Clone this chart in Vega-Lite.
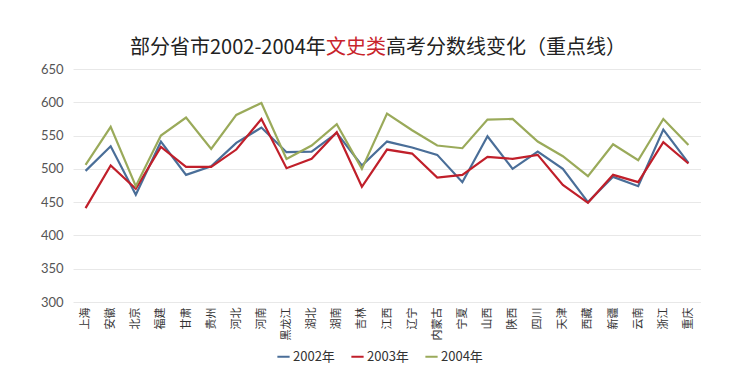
{
  "$schema": "https://vega.github.io/schema/vega-lite/v6.json",
  "background": "white",
  "padding": {"left": 40, "top": 38, "right": 0, "bottom": 0},
  "config": {
    "view": {"stroke": null},
    "font": "Noto Sans CJK SC",
    "title": {"font": "Noto Sans CJK SC", "fontSize": 20, "fontWeight": "normal", "color": "#222222", "anchor": "start", "offset": 0}
  },
  "spacing": 0,
  "center": true,
  "vconcat": [
    {
      "spacing": 0,
      "hconcat": [
        {"width": 1, "height": 1, "data": {"values": []}, "mark": {"type": "point", "opacity": 0}, "encoding": {}, "title": {"text": "部分省市2002-2004年"}},
        {"width": 1, "height": 1, "data": {"values": []}, "mark": {"type": "point", "opacity": 0}, "encoding": {}, "title": {"text": "文史类", "color": "#C8242B"}},
        {"width": 1, "height": 1, "data": {"values": []}, "mark": {"type": "point", "opacity": 0}, "encoding": {}, "title": {"text": "高考分数线变化（重点线）"}},
        {"width": 18, "height": 1, "data": {"values": []}, "mark": {"type": "point", "opacity": 0}, "encoding": {}}
      ]
    },
    {
      "width": 628,
      "height": 233,
      "data": {"values": [
        {"p": "上海", "y": "2002年", "v": 497}, {"p": "上海", "y": "2003年", "v": 441}, {"p": "上海", "y": "2004年", "v": 506},
        {"p": "安徽", "y": "2002年", "v": 534}, {"p": "安徽", "y": "2003年", "v": 505}, {"p": "安徽", "y": "2004年", "v": 563},
        {"p": "北京", "y": "2002年", "v": 461}, {"p": "北京", "y": "2003年", "v": 470}, {"p": "北京", "y": "2004年", "v": 474},
        {"p": "福建", "y": "2002年", "v": 541}, {"p": "福建", "y": "2003年", "v": 533}, {"p": "福建", "y": "2004年", "v": 550},
        {"p": "甘肃", "y": "2002年", "v": 491}, {"p": "甘肃", "y": "2003年", "v": 503}, {"p": "甘肃", "y": "2004年", "v": 577},
        {"p": "贵州", "y": "2002年", "v": 504}, {"p": "贵州", "y": "2003年", "v": 503}, {"p": "贵州", "y": "2004年", "v": 530},
        {"p": "河北", "y": "2002年", "v": 539}, {"p": "河北", "y": "2003年", "v": 529}, {"p": "河北", "y": "2004年", "v": 581},
        {"p": "河南", "y": "2002年", "v": 562}, {"p": "河南", "y": "2003年", "v": 575}, {"p": "河南", "y": "2004年", "v": 599},
        {"p": "黑龙江", "y": "2002年", "v": 525}, {"p": "黑龙江", "y": "2003年", "v": 501}, {"p": "黑龙江", "y": "2004年", "v": 515},
        {"p": "湖北", "y": "2002年", "v": 526}, {"p": "湖北", "y": "2003年", "v": 515}, {"p": "湖北", "y": "2004年", "v": 535},
        {"p": "湖南", "y": "2002年", "v": 554}, {"p": "湖南", "y": "2003年", "v": 555}, {"p": "湖南", "y": "2004年", "v": 567},
        {"p": "吉林", "y": "2002年", "v": 505}, {"p": "吉林", "y": "2003年", "v": 473}, {"p": "吉林", "y": "2004年", "v": 500},
        {"p": "江西", "y": "2002年", "v": 541}, {"p": "江西", "y": "2003年", "v": 529}, {"p": "江西", "y": "2004年", "v": 583},
        {"p": "辽宁", "y": "2002年", "v": 532}, {"p": "辽宁", "y": "2003年", "v": 523}, {"p": "辽宁", "y": "2004年", "v": 558},
        {"p": "内蒙古", "y": "2002年", "v": 521}, {"p": "内蒙古", "y": "2003年", "v": 487}, {"p": "内蒙古", "y": "2004年", "v": 535},
        {"p": "宁夏", "y": "2002年", "v": 480}, {"p": "宁夏", "y": "2003年", "v": 491}, {"p": "宁夏", "y": "2004年", "v": 531},
        {"p": "山西", "y": "2002年", "v": 549}, {"p": "山西", "y": "2003年", "v": 518}, {"p": "山西", "y": "2004年", "v": 574},
        {"p": "陕西", "y": "2002年", "v": 500}, {"p": "陕西", "y": "2003年", "v": 515}, {"p": "陕西", "y": "2004年", "v": 575},
        {"p": "四川", "y": "2002年", "v": 526}, {"p": "四川", "y": "2003年", "v": 521}, {"p": "四川", "y": "2004年", "v": 541},
        {"p": "天津", "y": "2002年", "v": 500}, {"p": "天津", "y": "2003年", "v": 476}, {"p": "天津", "y": "2004年", "v": 519},
        {"p": "西藏", "y": "2002年", "v": 450}, {"p": "西藏", "y": "2003年", "v": 449}, {"p": "西藏", "y": "2004年", "v": 489},
        {"p": "新疆", "y": "2002年", "v": 488}, {"p": "新疆", "y": "2003年", "v": 491}, {"p": "新疆", "y": "2004年", "v": 537},
        {"p": "云南", "y": "2002年", "v": 474}, {"p": "云南", "y": "2003年", "v": 480}, {"p": "云南", "y": "2004年", "v": 513},
        {"p": "浙江", "y": "2002年", "v": 559}, {"p": "浙江", "y": "2003年", "v": 540}, {"p": "浙江", "y": "2004年", "v": 575},
        {"p": "重庆", "y": "2002年", "v": 509}, {"p": "重庆", "y": "2003年", "v": 508}, {"p": "重庆", "y": "2004年", "v": 536}
      ]},
      "mark": {"type": "line", "strokeWidth": 2.2, "strokeJoin": "miter"},
      "encoding": {
        "x": {
          "field": "p", "type": "nominal", "sort": null,
          "scale": {"type": "point", "padding": 0.5},
          "axis": {"title": null, "labelAngle": -90, "labelFontSize": 11, "labelColor": "#333333", "labelPadding": 5, "ticks": false, "domain": false, "grid": false, "labelFont": "Noto Sans CJK SC"}
        },
        "y": {
          "field": "v", "type": "quantitative",
          "scale": {"domain": [300, 650], "nice": false, "zero": false},
          "axis": {"title": null, "values": [300, 350, 400, 450, 500, 550, 600, 650], "labelFontSize": 13, "labelColor": "#555555", "labelFont": "Lato", "labelPadding": 10, "ticks": false, "domain": false, "gridColor": "#e8e8e8", "gridWidth": 1}
        },
        "color": {
          "field": "y", "type": "nominal",
          "scale": {"domain": ["2002年", "2003年", "2004年"], "range": ["#4A6E98", "#C01F2A", "#9AAA5A"]},
          "legend": {"title": null, "orient": "none", "legendX": 203, "legendY": 287, "direction": "horizontal", "symbolType": "stroke", "symbolStrokeWidth": 2, "symbolSize": 150, "labelFontSize": 13, "labelColor": "#333333", "labelFont": "Noto Sans CJK SC", "columnPadding": 12, "labelOffset": 2}
        }
      }
    }
  ]
}
